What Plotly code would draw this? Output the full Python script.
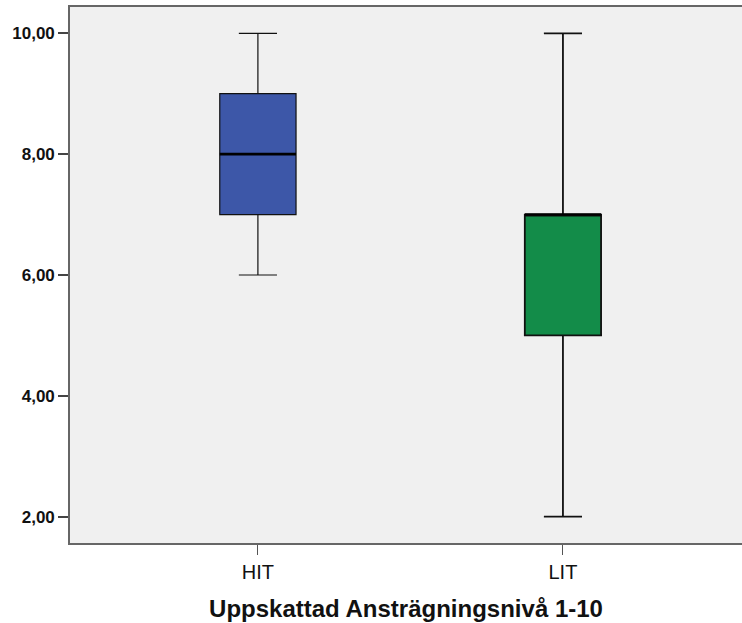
import plotly.graph_objects as go

categories = ["HIT", "LIT"]
positions = [0, 1]
lower_whisker = [6, 2]
q1 = [7, 5]
median = [8, 7]
q3 = [9, 7]
upper_whisker = [10, 10]
colors = ["#3D57A8", "#138C49"]
line_widths = [1.2, 1.8]
y_ticks = [2, 4, 6, 8, 10]
box_w = 0.25

fig = go.Figure()
for i, cat in enumerate(categories):
    fig.add_trace(go.Box(
        x=[positions[i]], q1=[q1[i]], median=[median[i]], q3=[q3[i]],
        lowerfence=[lower_whisker[i]], upperfence=[upper_whisker[i]],
        name=cat, width=box_w, whiskerwidth=0.5,
        fillcolor=colors[i], line=dict(color="#111111", width=line_widths[i]),
        boxpoints=False, showlegend=False, hoverinfo="skip",
    ))
    fig.add_trace(go.Scatter(
        x=[positions[i] - box_w / 2, positions[i] + box_w / 2],
        y=[median[i], median[i]], mode="lines",
        line=dict(color="#000000", width=2.6), showlegend=False, hoverinfo="skip",
    ))

fig.update_layout(
    width=742, height=623,
    margin=dict(l=70, r=0, t=7, b=80),
    paper_bgcolor="white", plot_bgcolor="#F0F0F0",
    separators=",.",
    font=dict(family="Liberation Sans, Arial, sans-serif", color="#111111"),
    xaxis=dict(
        range=[-0.616, 1.587], tickvals=positions, ticktext=categories,
        showgrid=False, zeroline=False,
        showline=True, mirror=True, linecolor="#666666", linewidth=1.6,
        ticks="outside", ticklen=10, tickcolor="#555555", tickwidth=1.2,
        tickfont=dict(size=20, color="#111111"),
        title=dict(text="<b>Uppskattad Ansträgningsnivå 1-10</b>",
                   font=dict(size=24, color="#111111"), standoff=18),
    ),
    yaxis=dict(
        range=[1.565, 10.435], tickvals=y_ticks, tickformat=".2f",
        showgrid=False, zeroline=False,
        showline=True, linecolor="#666666", linewidth=1.6,
        ticks="outside", ticklen=10, tickcolor="#444444", tickwidth=1.6,
        tickfont=dict(size=17, color="#111111", family="Liberation Sans, Arial, sans-serif", weight="bold"),
    ),
)

fig.write_html("out.html", config={"displayModeBar": False},
               post_script="document.body.style.margin='0';document.body.style.overflow='hidden';")
